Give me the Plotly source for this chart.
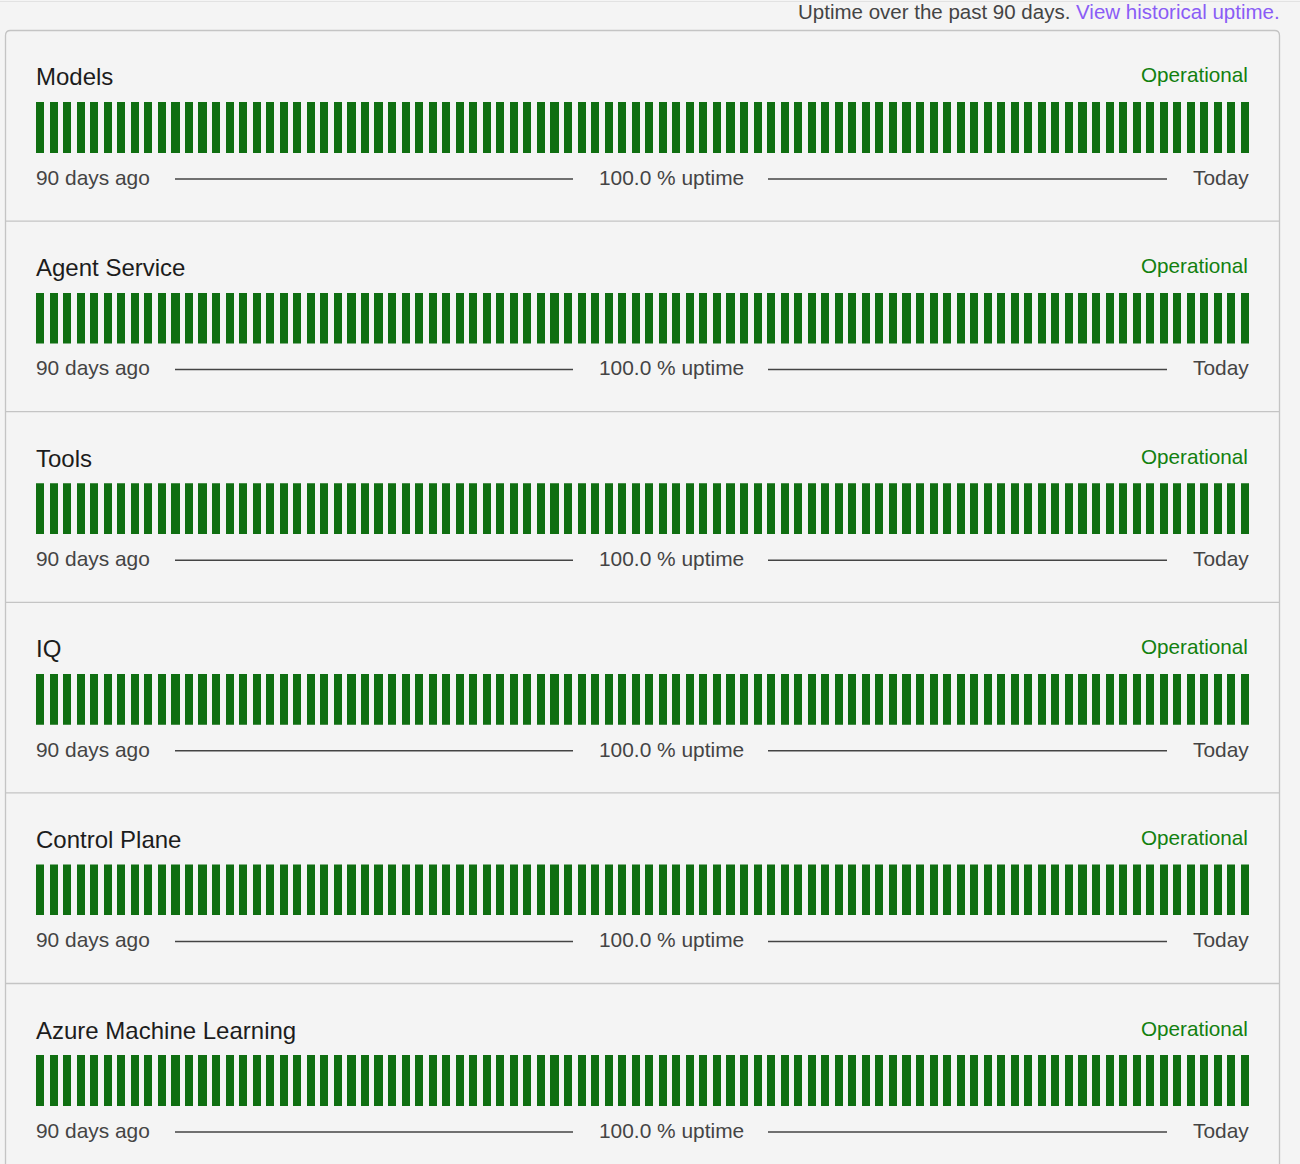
import plotly.graph_objects as go

W, H = 1300, 1164

# ---------------- data ----------------
COMPONENTS = ["Models", "Agent Service", "Tools", "IQ", "Control Plane", "Azure Machine Learning"]
STATUS = ["Operational", "Operational", "Operational", "Operational", "Operational", "Operational"]
UPTIME_PCT = [100.0, 100.0, 100.0, 100.0, 100.0, 100.0]
DAYS_AGO = list(range(89, -1, -1))  # 90 daily bars, oldest first

DAILY_MODELS = [
    100, 100, 100, 100, 100, 100, 100, 100, 100, 100,
    100, 100, 100, 100, 100, 100, 100, 100, 100, 100,
    100, 100, 100, 100, 100, 100, 100, 100, 100, 100,
    100, 100, 100, 100, 100, 100, 100, 100, 100, 100,
    100, 100, 100, 100, 100, 100, 100, 100, 100, 100,
    100, 100, 100, 100, 100, 100, 100, 100, 100, 100,
    100, 100, 100, 100, 100, 100, 100, 100, 100, 100,
    100, 100, 100, 100, 100, 100, 100, 100, 100, 100,
    100, 100, 100, 100, 100, 100, 100, 100, 100, 100,
]
DAILY_AGENT_SERVICE = [
    100, 100, 100, 100, 100, 100, 100, 100, 100, 100,
    100, 100, 100, 100, 100, 100, 100, 100, 100, 100,
    100, 100, 100, 100, 100, 100, 100, 100, 100, 100,
    100, 100, 100, 100, 100, 100, 100, 100, 100, 100,
    100, 100, 100, 100, 100, 100, 100, 100, 100, 100,
    100, 100, 100, 100, 100, 100, 100, 100, 100, 100,
    100, 100, 100, 100, 100, 100, 100, 100, 100, 100,
    100, 100, 100, 100, 100, 100, 100, 100, 100, 100,
    100, 100, 100, 100, 100, 100, 100, 100, 100, 100,
]
DAILY_TOOLS = [
    100, 100, 100, 100, 100, 100, 100, 100, 100, 100,
    100, 100, 100, 100, 100, 100, 100, 100, 100, 100,
    100, 100, 100, 100, 100, 100, 100, 100, 100, 100,
    100, 100, 100, 100, 100, 100, 100, 100, 100, 100,
    100, 100, 100, 100, 100, 100, 100, 100, 100, 100,
    100, 100, 100, 100, 100, 100, 100, 100, 100, 100,
    100, 100, 100, 100, 100, 100, 100, 100, 100, 100,
    100, 100, 100, 100, 100, 100, 100, 100, 100, 100,
    100, 100, 100, 100, 100, 100, 100, 100, 100, 100,
]
DAILY_IQ = [
    100, 100, 100, 100, 100, 100, 100, 100, 100, 100,
    100, 100, 100, 100, 100, 100, 100, 100, 100, 100,
    100, 100, 100, 100, 100, 100, 100, 100, 100, 100,
    100, 100, 100, 100, 100, 100, 100, 100, 100, 100,
    100, 100, 100, 100, 100, 100, 100, 100, 100, 100,
    100, 100, 100, 100, 100, 100, 100, 100, 100, 100,
    100, 100, 100, 100, 100, 100, 100, 100, 100, 100,
    100, 100, 100, 100, 100, 100, 100, 100, 100, 100,
    100, 100, 100, 100, 100, 100, 100, 100, 100, 100,
]
DAILY_CONTROL_PLANE = [
    100, 100, 100, 100, 100, 100, 100, 100, 100, 100,
    100, 100, 100, 100, 100, 100, 100, 100, 100, 100,
    100, 100, 100, 100, 100, 100, 100, 100, 100, 100,
    100, 100, 100, 100, 100, 100, 100, 100, 100, 100,
    100, 100, 100, 100, 100, 100, 100, 100, 100, 100,
    100, 100, 100, 100, 100, 100, 100, 100, 100, 100,
    100, 100, 100, 100, 100, 100, 100, 100, 100, 100,
    100, 100, 100, 100, 100, 100, 100, 100, 100, 100,
    100, 100, 100, 100, 100, 100, 100, 100, 100, 100,
]
DAILY_AZURE_ML = [
    100, 100, 100, 100, 100, 100, 100, 100, 100, 100,
    100, 100, 100, 100, 100, 100, 100, 100, 100, 100,
    100, 100, 100, 100, 100, 100, 100, 100, 100, 100,
    100, 100, 100, 100, 100, 100, 100, 100, 100, 100,
    100, 100, 100, 100, 100, 100, 100, 100, 100, 100,
    100, 100, 100, 100, 100, 100, 100, 100, 100, 100,
    100, 100, 100, 100, 100, 100, 100, 100, 100, 100,
    100, 100, 100, 100, 100, 100, 100, 100, 100, 100,
    100, 100, 100, 100, 100, 100, 100, 100, 100, 100,
]
DAILY = [DAILY_MODELS, DAILY_AGENT_SERVICE, DAILY_TOOLS, DAILY_IQ,
         DAILY_CONTROL_PLANE, DAILY_AZURE_ML]

HEADER_TEXT = "Uptime over the past 90 days."
LINK_TEXT = "View historical uptime."
LEFT_LABEL = "90 days ago"
RIGHT_LABEL = "Today"

# ---------------- style / layout constants ----------------
BG = "#f4f4f4"
BORDER = "#c4c4c4"
GREEN = "#0f6e11"
STATUS_GREEN = "#12800f"
TEXT_DARK = "#1c1c1c"
TEXT_MID = "#444444"
LINK = "#8a5cf6"
FONT = "Liberation Sans, Arial, sans-serif"

SEC_TOP = 31.0
SEC_H = 190.6
BAR_X0, BAR_X1 = 36.0, 1249.0
BAR_FRAC = 0.6


def px(x):
    return x / W


def py(y):
    return 1 - y / H


fig = go.Figure()
shapes = []
annotations = []

# top faint line and panel
shapes.append(dict(type="line", xref="paper", yref="paper", x0=0, x1=1,
                   y0=py(1.5), y1=py(1.5), line=dict(color="#e2e2e2", width=1)))
r = 5
L, R, T, B = 5.5, 1279.5, 30.5, 1200
path = (f"M {px(L)} {py(B)} L {px(L)} {py(T + r)} "
        f"Q {px(L)} {py(T)} {px(L + r)} {py(T)} "
        f"L {px(R - r)} {py(T)} Q {px(R)} {py(T)} {px(R)} {py(T + r)} "
        f"L {px(R)} {py(B)} Z")
shapes.append(dict(type="path", xref="paper", yref="paper", path=path,
                   fillcolor=BG, line=dict(color=BORDER, width=1.3), layer="below"))

for k, name in enumerate(COMPONENTS):
    off = SEC_TOP + SEC_H * k
    bar_top = off + 71
    bar_bot = off + 122
    ax = "" if k == 0 else str(k + 1)
    fig.add_trace(go.Bar(
        x=DAYS_AGO, y=DAILY[k], xaxis="x" + ax, yaxis="y" + ax,
        marker=dict(color=GREEN, line=dict(width=0)),
        width=BAR_FRAC, showlegend=False,
        hovertemplate=name + "<br>%{x} days ago: %{y:.1f}% uptime<extra></extra>",
    ))
    fig.update_layout(**{
        "xaxis" + ax: dict(domain=[px(BAR_X0), px(BAR_X1)],
                           range=[89 + BAR_FRAC / 2, -BAR_FRAC / 2],
                           visible=False, fixedrange=True),
        "yaxis" + ax: dict(domain=[py(bar_bot), py(bar_top)], range=[0, 100],
                           visible=False, fixedrange=True),
    })

    # divider
    if k > 0:
        shapes.append(dict(type="line", xref="paper", yref="paper",
                           x0=px(L), x1=px(R), y0=py(off - 0.5), y1=py(off - 0.5),
                           line=dict(color=BORDER, width=1.3)))
    # footer lines
    ly = off + 148
    for x0, x1 in [(175, 573), (768, 1167)]:
        shapes.append(dict(type="line", xref="paper", yref="paper",
                           x0=px(x0), x1=px(x1), y0=py(ly), y1=py(ly),
                           line=dict(color=TEXT_MID, width=1.5)))

    annotations += [
        dict(text=name, x=px(34), y=py(off + 46), xanchor="left", yanchor="middle",
             font=dict(size=24, color=TEXT_DARK)),
        dict(text=STATUS[k], x=px(1249.8), y=py(off + 44), xanchor="right", yanchor="middle",
             font=dict(size=20.7, color=STATUS_GREEN)),
        dict(text=LEFT_LABEL, x=px(34), y=py(off + 146.2), xanchor="left", yanchor="middle",
             font=dict(size=20.9, color=TEXT_MID)),
        dict(text=f"{UPTIME_PCT[k]:.1f} % uptime", x=px(671), y=py(off + 146.2),
             xanchor="center", yanchor="middle", font=dict(size=20.9, color=TEXT_MID)),
        dict(text=RIGHT_LABEL, x=px(1250.8), y=py(off + 146.2), xanchor="right", yanchor="middle",
             font=dict(size=20.9, color=TEXT_MID)),
    ]

annotations.append(dict(
    text=f"<span style='color:{TEXT_MID}'>{HEADER_TEXT}</span> "
         f"<span style='color:{LINK}'>{LINK_TEXT}</span>",
    x=px(1282), y=py(11.5), xanchor="right", yanchor="middle",
    font=dict(size=20.5, color=TEXT_MID)))

for a in annotations:
    a.update(xref="paper", yref="paper", showarrow=False)

fig.update_layout(
    width=W, height=H, margin=dict(l=0, r=0, t=0, b=0),
    paper_bgcolor=BG, plot_bgcolor="rgba(0,0,0,0)",
    font=dict(family=FONT), bargap=0,
    shapes=shapes, annotations=annotations,
)

fig.write_html("out.html", config={"displayModeBar": False})
